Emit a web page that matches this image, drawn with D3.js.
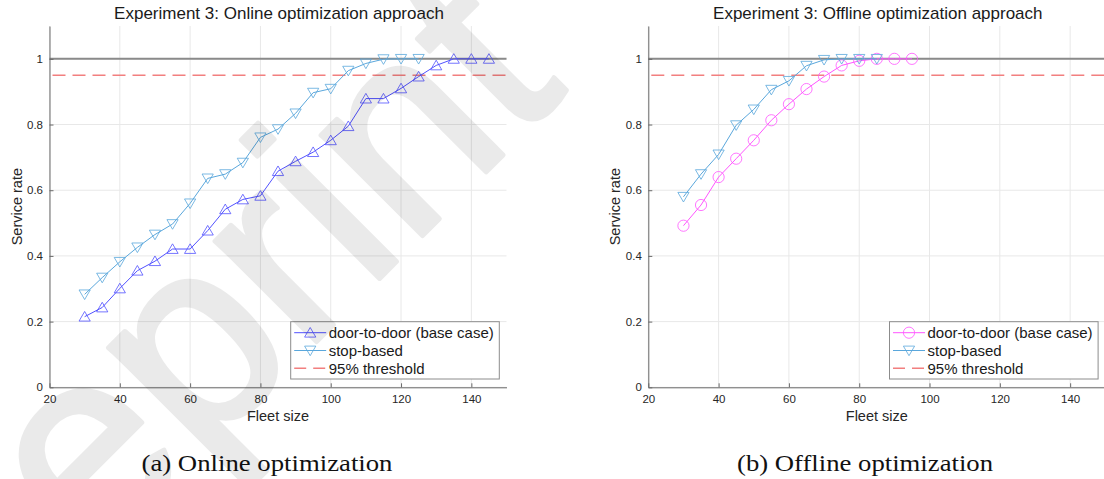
<!DOCTYPE html>
<html>
<head>
<meta charset="utf-8">
<script src="https://cdn.jsdelivr.net/npm/d3@7"></script>
<style>
  body { margin: 0; background: #fff; }
  svg { display: block; }
</style>
</head>
<body>
<div id="chart"></div>
<script>
// ---- data ----
var onlineDoorFleet = [30, 35, 40, 45, 50, 55, 60, 65, 70, 75, 80, 85, 90, 95, 100, 105, 110, 115, 120, 125, 130, 135, 140, 145];
var onlineDoorRate  = [0.215, 0.243, 0.301, 0.355, 0.384, 0.421, 0.421, 0.477, 0.542, 0.572, 0.583, 0.658, 0.688, 0.716, 0.752, 0.795, 0.879, 0.879, 0.910, 0.946, 0.980, 1.0, 1.0, 1.0];
var onlineStopFleet = [30, 35, 40, 45, 50, 55, 60, 65, 70, 75, 80, 85, 90, 95, 100, 105, 110, 115, 120, 125];
var onlineStopRate  = [0.283, 0.334, 0.382, 0.426, 0.465, 0.497, 0.560, 0.636, 0.649, 0.684, 0.761, 0.786, 0.834, 0.897, 0.909, 0.964, 0.986, 0.999, 1.0, 1.0];

var offlineDoorFleet = [30, 35, 40, 45, 50, 55, 60, 65, 70, 75, 80, 85, 90, 95];
var offlineDoorRate  = [0.492, 0.555, 0.640, 0.696, 0.752, 0.813, 0.862, 0.908, 0.946, 0.980, 0.994, 1.0, 1.0, 1.0];
var offlineStopFleet = [30, 35, 40, 45, 50, 55, 60, 65, 70, 75, 80, 85];
var offlineStopRate  = [0.580, 0.649, 0.709, 0.798, 0.846, 0.906, 0.933, 0.979, 0.997, 1.0, 1.0, 1.0];

var xTicks = [20, 40, 60, 80, 100, 120, 140];
var yTicks = [0, 0.2, 0.4, 0.6, 0.8, 1];
var threshold = 0.95;
var legendLabels = ["door-to-door (base case)", "stop-based", "95% threshold"];
var panelTitles = ["Experiment 3: Online optimization approach", "Experiment 3: Offline optimization approach"];
var captions = ["(a) Online optimization", "(b) Offline optimization"];

var W = 1104, H = 479;
var svg = d3.select("#chart").append("svg").attr("width", W).attr("height", H);

var triUp = "M0,-5.2L5.6,4.4L-5.6,4.4Z";
var triDown = "M0,5.2L5.6,-4.4L-5.6,-4.4Z";

function drawMarker(g, shape, color, cx, cy) {
    if (shape === "circle") {
        g.append("circle").attr("cx", cx).attr("cy", cy).attr("r", 5.6)
            .attr("fill", "none").attr("stroke", color).attr("stroke-width", 1).attr("stroke-opacity", 0.8);
    } else {
        g.append("path").attr("d", shape === "up" ? triUp : triDown)
            .attr("transform", "translate(" + cx + "," + cy + ")")
            .attr("fill", "none").attr("stroke", color).attr("stroke-width", 1).attr("stroke-opacity", 0.8);
    }
}

function panel(options) {
    var left = options.left, top = 26, width = 457, height = 361.3;
    var g = svg.append("g").attr("transform", "translate(" + left + "," + top + ")");

    var x = d3.scaleLinear().domain([20, 150]).range([0, width]);
    var y = d3.scaleLinear().domain([0, 1.1]).range([height, 0]);

    // grid
    g.selectAll(".gx").data(xTicks).enter().append("line")
        .attr("x1", function (d) { return x(d); }).attr("x2", function (d) { return x(d); })
        .attr("y1", 0).attr("y2", height)
        .attr("stroke", "#e8e8e8").attr("stroke-width", 1);
    g.selectAll(".gy").data(yTicks).enter().append("line")
        .attr("x1", 0).attr("x2", width)
        .attr("y1", function (d) { return y(d); }).attr("y2", function (d) { return y(d); })
        .attr("stroke", "#e8e8e8").attr("stroke-width", 1);

    // reference lines
    g.append("line").attr("x1", 0).attr("x2", width).attr("y1", y(1)).attr("y2", y(1))
        .attr("stroke", "#8a8a8a").attr("stroke-width", 2);
    g.append("line").attr("x1", 0).attr("x2", width).attr("y1", y(threshold)).attr("y2", y(threshold))
        .attr("stroke", "#f27f7f").attr("stroke-width", 1.5).attr("stroke-dasharray", "13,7")
        .attr("stroke-dashoffset", -3);

    var line = d3.line()
        .x(function (d) { return x(d[0]); })
        .y(function (d) { return y(d[1]); });

    options.series.forEach(function (s) {
        var pts = d3.zip(s.fleet, s.rate);
        g.append("path").datum(pts).attr("d", line)
            .attr("fill", "none").attr("stroke", s.color).attr("stroke-width", 1);
        pts.forEach(function (p) { drawMarker(g, s.shape, s.color, x(p[0]), y(p[1])); });
    });

    // axes
    var xg = g.append("g").attr("transform", "translate(0," + height + ")")
        .call(d3.axisBottom(x).tickValues(xTicks).tickSizeInner(-4).tickSizeOuter(0).tickPadding(7.5)
            .tickFormat(d3.format("d")));
    var yg = g.append("g")
        .call(d3.axisLeft(y).tickValues(yTicks).tickSizeInner(-4).tickSizeOuter(0).tickPadding(6.5)
            .tickFormat(function (d) { return d === 0 || d === 1 ? String(d) : d3.format(".1f")(d); }));
    [xg, yg].forEach(function (a) {
        a.select(".domain").attr("stroke", "#6a6a6a").attr("stroke-width", 1);
        a.selectAll(".tick line").attr("stroke", "#6a6a6a");
        a.selectAll("text").attr("fill", "#262626")
            .style("font-family", "'Liberation Sans', Arial, sans-serif").style("font-size", "11.5px");
    });

    // labels
    g.append("text").attr("x", width / 2 + 1).attr("y", -7).attr("text-anchor", "middle")
        .style("font-family", "'Liberation Sans', Arial, sans-serif").style("font-size", "17px")
        .attr("fill", "#1a1a1a").text(options.title);
    g.append("text").attr("x", width / 2).attr("y", height + 34).attr("text-anchor", "middle")
        .style("font-family", "'Liberation Sans', Arial, sans-serif").style("font-size", "14.5px")
        .attr("fill", "#262626").text("Fleet size");
    g.append("text").attr("transform", "translate(" + (-33) + "," + (height / 2) + ") rotate(-90)")
        .attr("text-anchor", "middle").attr("dy", "0.35em")
        .style("font-family", "'Liberation Sans', Arial, sans-serif").style("font-size", "14.5px")
        .attr("fill", "#262626").text("Service rate");

    // legend
    var lg = g.append("g").attr("transform", "translate(" + (241.2) + "," + (295.7) + ")");
    lg.append("rect").attr("x", 0).attr("y", 0).attr("width", 208.6).attr("height", 57.3)
        .attr("fill", "#fff").attr("stroke", "#8c8c8c").attr("stroke-width", 1);
    var rows = [
        { label: legendLabels[0], color: options.series[0].color, shape: options.series[0].shape },
        { label: legendLabels[1], color: options.series[1].color, shape: options.series[1].shape },
        { label: legendLabels[2], color: "#f27f7f", shape: "dash" }
    ];
    rows.forEach(function (r, i) {
        var cy = 11 + i * 17.8;
        if (r.shape === "dash") {
            lg.append("line").attr("x1", 3.5).attr("x2", 35.5).attr("y1", cy).attr("y2", cy)
                .attr("stroke", r.color).attr("stroke-width", 1.5).attr("stroke-dasharray", "12,7");
        } else {
            lg.append("line").attr("x1", 3.5).attr("x2", 35.5).attr("y1", cy).attr("y2", cy)
                .attr("stroke", r.color).attr("stroke-width", 1);
            drawMarker(lg, r.shape, r.color, 19.5, cy);
        }
        lg.append("text").attr("x", 38).attr("y", cy).attr("dy", "0.36em")
            .style("font-family", "'Liberation Sans', Arial, sans-serif").style("font-size", "15px")
            .attr("fill", "#1a1a1a").text(r.label);
    });

    // caption below the panel
    svg.append("text").attr("x", options.captionX).attr("y", 471).attr("text-anchor", "middle")
        .style("font-family", "'Liberation Serif', 'DejaVu Serif', serif").style("font-size", "23px")
        .attr("textLength", options.captionLen).attr("lengthAdjust", "spacingAndGlyphs")
        .attr("fill", "#111").text(options.caption);
}

panel({
    left: 49.5, title: panelTitles[0], caption: captions[0], captionX: 267, captionLen: 251,
    series: [
        { fleet: onlineDoorFleet, rate: onlineDoorRate, color: "#5252ff", shape: "up" },
        { fleet: onlineStopFleet, rate: onlineStopRate, color: "#5aa7dc", shape: "down" }
    ]
});
panel({
    left: 648.3, title: panelTitles[1], caption: captions[1], captionX: 865, captionLen: 256,
    series: [
        { fleet: offlineDoorFleet, rate: offlineDoorRate, color: "#ff55ff", shape: "circle" },
        { fleet: offlineStopFleet, rate: offlineStopRate, color: "#5aa7dc", shape: "down" }
    ]
});

// faint diagonal "Preprint" watermark over the left panel
svg.append("g").attr("opacity", 0.08)
  .append("text")
    .attr("transform", "translate(-100,758) rotate(-45)")
    .style("font-family", "'Liberation Sans', Arial, sans-serif").style("font-size", "270px")
    .attr("fill", "#000").attr("stroke", "#000").attr("stroke-width", 5).attr("stroke-linejoin", "round")
    .text("Preprint");
</script>
</body>
</html>
